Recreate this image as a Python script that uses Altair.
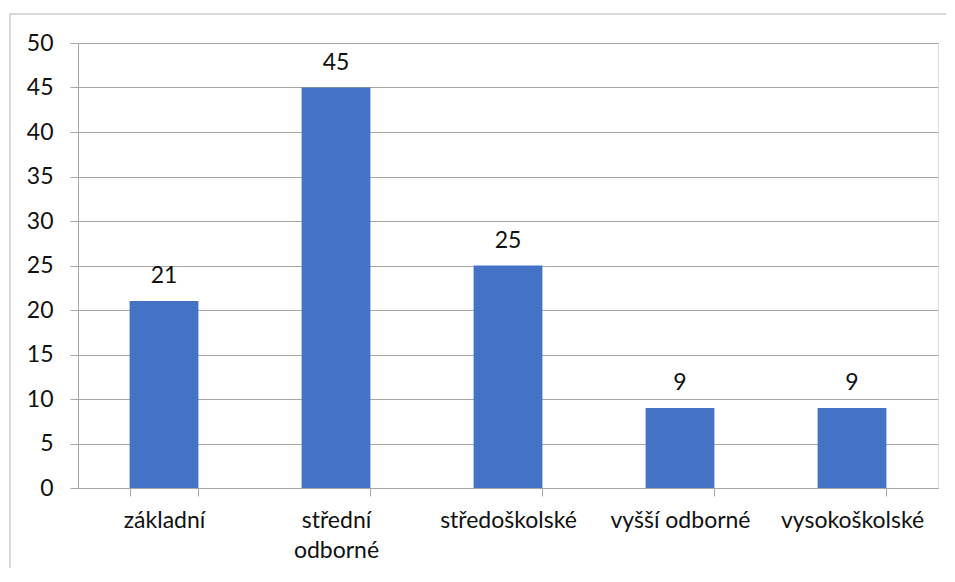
import altair as alt
import pandas as pd

categories = ["základní", "střední odborné", "středoškolské", "vyšší odborné", "vysokoškolské"]
values = [21, 45, 25, 9, 9]

df = pd.DataFrame({"kat": categories, "pocet": values})

FONT = "Lato"
GRID = "#a6a6a6"
FS = 23

x = alt.X("kat:N", sort=categories, title=None,
          scale=alt.Scale(paddingInner=0.6, paddingOuter=0.3),
          axis=alt.Axis(labelAngle=0, labelFont=FONT, labelFontSize=FS, labelColor="#111111",
                        labelPadding=13, tickBand="extent", tickSize=8, tickColor=GRID,
                        domainColor=GRID, labelLineHeight=30,
                        labelExpr="datum.label == 'střední odborné' ? ['střední', 'odborné'] : datum.label"))
y = alt.Y("pocet:Q", title=None,
          scale=alt.Scale(domain=[0, 50]),
          axis=alt.Axis(values=[0, 5, 10, 15, 20, 25, 30, 35, 40, 45, 50], labelFont=FONT,
                        labelFontSize=FS, labelColor="#111111", labelPadding=17,
                        tickSize=8, tickColor=GRID, domainColor=GRID, gridColor=GRID))

bars = alt.Chart(df).mark_bar(color="#4472C4").encode(x=x, y=y)
labels = alt.Chart(df).mark_text(baseline="bottom", dy=-13, font=FONT, fontSize=FS, color="#111111").encode(
    x=alt.X("kat:N", sort=categories), y="pocet:Q", text="pocet:Q")

border = alt.Chart(df).mark_rect(fill=None, stroke="#d9d9d9", strokeWidth=2, clip=False).encode(
    x=alt.value(-68), x2=alt.value(900), y=alt.value(-29), y2=alt.value(600))

chart = alt.layer(border, bars, labels).properties(
    width=860, height=445,
    autosize=alt.AutoSizeParams(type="none"),
    padding={"left": 70, "top": 35, "right": 8, "bottom": 80},
).configure_view(stroke=None).configure(background="white")

chart.save("out.html", embed_options={"renderer": "svg", "actions": False})
